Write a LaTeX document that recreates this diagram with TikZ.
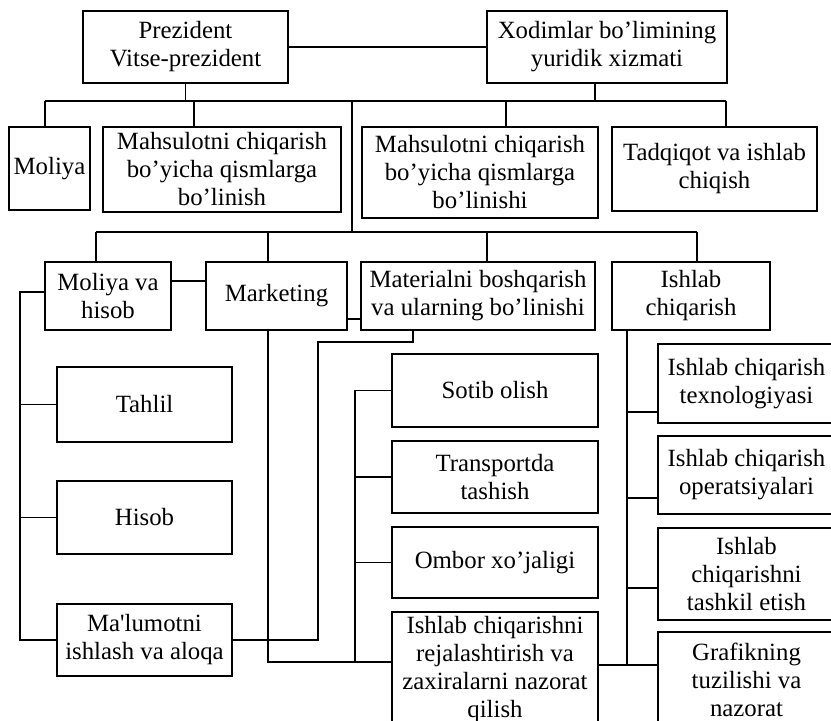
\documentclass[tikz,border=0pt]{standalone}
\usepackage{fontspec}
\setmainfont{Liberation Serif}
\usetikzlibrary{positioning}

\begin{document}
\begin{tikzpicture}[x=0.5pt,y=-0.5pt,line width=0.65pt,
  box/.style={draw,align=center,inner sep=1pt,font=\fontsize{12.4}{14}\selectfont},
  wh/.style 2 args={minimum width=#1*0.5pt,minimum height=#2*0.5pt}]
\path[use as bounding box,fill=white] (0,0) rectangle (831,721); \clip (0,0) rectangle (831,721);
\node[box,wh={205}{72}] (prez) at (185.5,47) {Prezident\\Vitse-prezident}; \node[box,wh={240}{72}] (xod) at (607,47) {Xodimlar bo’limining\\yuridik xizmati};
\node[box,wh={81}{83}] (moliya) at (49.5,168.5) {Moliya}; \node[box,wh={238}{85}] (mahs1) at (222,169.5) {Mahsulotni chiqarish\\bo’yicha qismlarga\\bo’linish};
\node[box,wh={236}{91}] (mahs2) at (480,172.5) {Mahsulotni chiqarish\\bo’yicha qismlarga\\bo’linishi}; \node[box,wh={205}{84}] (tadq) at (714.5,169) {Tadqiqot va ishlab\\chiqish};
\node[box,wh={126}{68}] (molhis) at (108,296) {Moliya va\\hisob}; \node[box,wh={141}{68}] (mark) at (276.5,296) {Marketing};
\node[box,wh={234}{68}] (mat) at (478,296) {Materialni boshqarish\\va ularning bo’linishi}; \node[box,wh={158}{68}] (ishch) at (691,296) {Ishlab\\chiqarish};
\node[box,wh={175}{75}] (tahlil) at (144.5,404.5) {Tahlil}; \node[box,wh={175}{73}] (hisob) at (144.5,517.5) {Hisob};
\node[box,wh={175}{72}] (malum) at (144.5,640) {Ma\textquotesingle lumotni\\ishlash va aloqa};
\node[box,wh={206}{73}] (sotib) at (495,390.5) {Sotib olish}; \node[box,wh={206}{72}] (trans) at (495,477) {Transportda\\tashish};
\node[box,wh={206}{71}] (ombor) at (495,562.5) {Ombor xo’jaligi}; \node[box,wh={206}{116}] (rejal) at (495,670) {Ishlab chiqarishni\\rejalashtirish va\\zaxiralarni nazorat\\qilish};
\node[box,wh={177}{79}] (texn) at (746.5,383.5) {Ishlab chiqarish\\texnologiyasi}; \node[box,wh={177}{78}] (oper) at (746.5,475) {Ishlab chiqarish\\operatsiyalari};
\node[box,wh={177}{92}] (tashk) at (746.5,574) {Ishlab\\chiqarishni\\tashkil etish}; \node[box,wh={177}{96}] (graf) at (746.5,680) {Grafikning\\tuzilishi va\\nazorat};
\coordinate (b1a) at (45,101); \coordinate (b1b) at (726,101); \coordinate (b2a) at (96,232); \coordinate (b2b) at (697,232);
\draw (prez) -- (xod); \draw (prez.south) -- (prez.south |- b1a); \draw ([xshift=-6pt]xod.south) -- ([xshift=-6pt]xod.south |- b1a);
\draw (b1a) -- (b1b); \draw (352,101) -- (352,232); \draw (b2a) -- (b2b);
\foreach \n/\x in {moliya/45,mahs1/194,mahs2/506,tadq/726} \draw (\x,101) -- (\n.north -| \x,101);
\foreach \n/\x in {molhis/96,mark/268,mat/487,ishch/697} \draw (\x,232) -- (\n.north -| \x,232);
\draw (molhis.east |- 0,281) -- (mark.west |- 0,281); \draw (mark.east |- 0,319) -- (mat.west |- 0,319);
\draw (molhis.west |- 0,292) -| (20,640) -- (malum.west);
\foreach \n in {tahlil,hisob} \draw (\n.west) -- (\n.west -| 20,0);
\draw (mark.south -| 268,0) |- (rejal.west |- 0,662);
\draw (mat.south -| 413,0) |- (318,342) |- (malum.east);
\draw (sotib.west) -| (355,662); \foreach \n in {trans,ombor} \draw (\n.west) -- (\n.west -| 355,0);
\draw (ishch.south -| 627,0) -- (627,665);
\foreach \n/\y in {texn/412,oper/498,tashk/588} \draw (627,\y) -- (\n.west |- 0,\y);
\draw (rejal.east |- 0,665) -- (graf.west |- 0,665);
\end{tikzpicture}
\end{document}
